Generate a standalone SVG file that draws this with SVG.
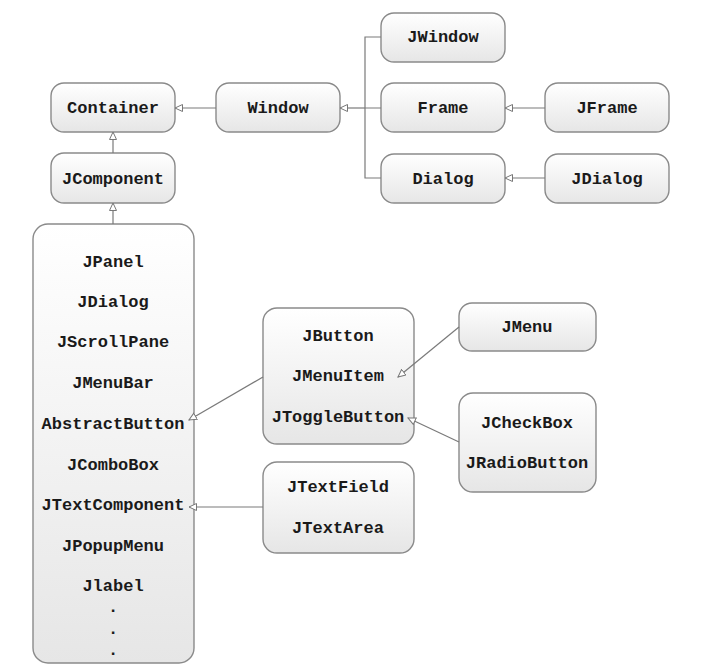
<svg xmlns="http://www.w3.org/2000/svg" width="711" height="669" viewBox="0 0 711 669">
<defs>
<linearGradient id="g" x1="0" y1="0" x2="0" y2="1">
<stop offset="0" stop-color="#ffffff"/>
<stop offset="1" stop-color="#e6e6e6"/>
</linearGradient>
<marker id="tri" markerUnits="userSpaceOnUse" markerWidth="10" markerHeight="10" refX="8" refY="4" orient="auto">
<path d="M0.5,0.5 L8,4 L0.5,7.5 z" fill="#fff" stroke="#777" stroke-width="1"/>
</marker>
<style>
.n rect{fill:url(#g);stroke:#8a8a8a;stroke-width:1.4}
.n text{font-family:"Liberation Mono","Courier New",monospace;font-weight:bold;font-size:17px;fill:#1a1a1a;text-anchor:middle}
#connectors path{fill:none;stroke:#7a7a7a;stroke-width:1.2}
</style>
</defs>
<rect width="711" height="669" fill="#fff"/>
<g id="Container" class="n"><rect x="51" y="83" width="124" height="49" rx="13"/><text x="113" y="113">Container</text></g>
<g id="Window" class="n"><rect x="216" y="83" width="124" height="49" rx="13"/><text x="278" y="113">Window</text></g>
<g id="JComponent" class="n"><rect x="51" y="153" width="124" height="50" rx="13"/><text x="113" y="184">JComponent</text></g>
<g id="JWindow" class="n"><rect x="381" y="13" width="124" height="49" rx="13"/><text x="443" y="42">JWindow</text></g>
<g id="Frame" class="n"><rect x="381" y="83" width="124" height="49" rx="13"/><text x="443" y="113">Frame</text></g>
<g id="Dialog" class="n"><rect x="381" y="154" width="124" height="49" rx="13"/><text x="443" y="184">Dialog</text></g>
<g id="JFrame" class="n"><rect x="545" y="83" width="124" height="49" rx="13"/><text x="607" y="113">JFrame</text></g>
<g id="JDialog" class="n"><rect x="545" y="154" width="124" height="49" rx="13"/><text x="607" y="184">JDialog</text></g>
<g id="Components" class="n"><rect x="33" y="224" width="161" height="439" rx="15"/>
<text x="113" y="267">JPanel</text>
<text x="113" y="307">JDialog</text>
<text x="113" y="347">JScrollPane</text>
<text x="113" y="388">JMenuBar</text>
<text x="113" y="429">AbstractButton</text>
<text x="113" y="470">JComboBox</text>
<text x="113" y="510">JTextComponent</text>
<text x="113" y="551">JPopupMenu</text>
<text x="113" y="591">Jlabel</text>
<text x="113" y="612">.</text>
<text x="113" y="634">.</text>
<text x="113" y="655">.</text>
</g>
<g id="Buttons" class="n"><rect x="263" y="308" width="151" height="136" rx="14"/>
<text x="338" y="341">JButton</text>
<text x="338" y="381">JMenuItem</text>
<text x="338" y="422">JToggleButton</text>
</g>
<g id="JMenu" class="n"><rect x="459" y="303" width="137" height="48" rx="13"/><text x="527" y="332">JMenu</text></g>
<g id="Toggles" class="n"><rect x="459" y="393" width="137" height="99" rx="14"/>
<text x="527" y="428">JCheckBox</text>
<text x="527" y="468">JRadioButton</text>
</g>
<g id="TextComps" class="n"><rect x="263" y="462" width="151" height="91" rx="14"/>
<text x="338" y="492">JTextField</text>
<text x="338" y="533">JTextArea</text>
</g>
<g id="connectors">
<path d="M216,108 H175" marker-end="url(#tri)"/>
<path d="M113,153 V132" marker-end="url(#tri)"/>
<path d="M113,224 V203" marker-end="url(#tri)"/>
<path d="M381,37 H365 V178 H381 M381,108 H365"/>
<path d="M365,108 H340" marker-end="url(#tri)"/>
<path d="M545,108 H505" marker-end="url(#tri)"/>
<path d="M545,178 H505" marker-end="url(#tri)"/>
<path d="M263,377 L189,420" marker-end="url(#tri)"/>
<path d="M263,507 H189" marker-end="url(#tri)"/>
<path d="M459,327 L398,377" marker-end="url(#tri)"/>
<path d="M459,442 L408,418" marker-end="url(#tri)"/>
</g>
</svg>
